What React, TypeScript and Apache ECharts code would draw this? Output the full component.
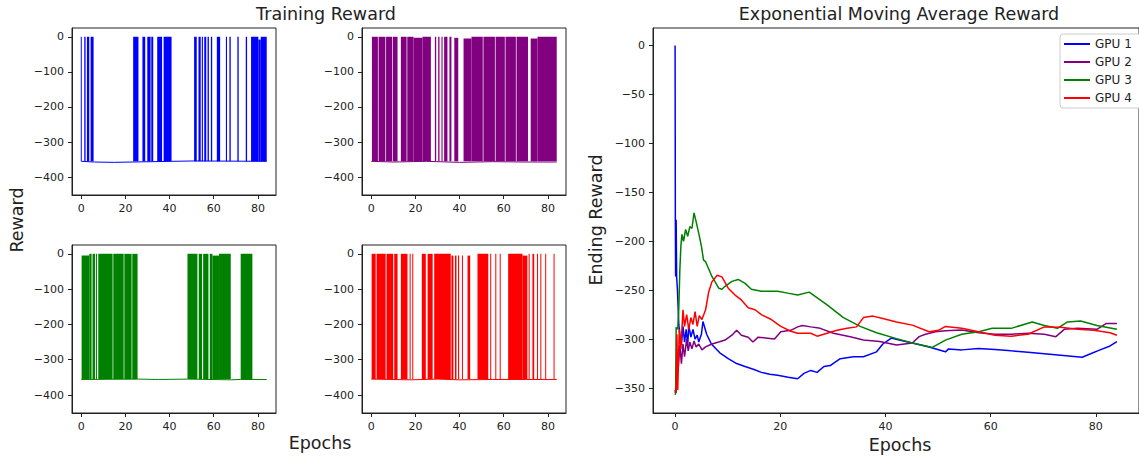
import React, { useEffect, useRef } from "react";
import * as echarts from "echarts";

// ---------- data ----------
const gpuNames = ["GPU 1", "GPU 2", "GPU 3", "GPU 4"];
const gpuColors = ["#0000ff", "#800080", "#008000", "#ff0000"];
const epochTicks = [0, 20, 40, 60, 80];
const rewardTicks = [0, -100, -200, -300, -400];
const emaTicks = [0, -50, -100, -150, -200, -250, -300, -350];
const emaXTicks = [0, 20, 40, 60, 80];

// Training reward: baseline (failed episodes, ~-355) and high-reward bands [startEpoch, endEpoch, topReward]
const gpu1Base = [[0, -355], [6, -357], [15, -358], [23, -357], [41, -355], [51, -354], [84, -355]];
const gpu1Bands = [
  [0, 0.45, 0], [1.35, 1.96, 0], [2.56, 3.62, 0], [4.22, 5.58, 0],
  [23.5, 25.9, 0], [27.7, 28.96, 0], [29.9, 31.4, 0], [31.7, 32.6, 0], [34.4, 36.6, 0], [37.3, 40.9, 0],
  [51.1, 52.3, 0], [53.1, 54.1, 0], [54.6, 55.1, 0], [55.7, 56.6, 0], [57.2, 57.8, 0], [58.7, 59.3, 0],
  [61.4, 62.9, 0], [65.5, 66.0, 0], [67.1, 67.7, 0], [70.7, 71.3, 0], [74.5, 75.1, 0],
  [76.9, 80.2, 0], [80.2, 81.3, -8], [81.3, 84, 0],
];
const gpu2Base = [[0, -355], [10, -357], [25, -355], [40, -358], [55, -356], [70, -357], [84, -357]];
const gpu2Bands = [
  [0.3, 3.0, 0], [3.3, 6.4, 0], [6.7, 9.5, 0], [9.8, 11.9, 0], [13.4, 16.0, 0], [16.3, 19.1, 0],
  [19.1, 23.2, -3], [23.2, 27.0, 0],
  [28.8, 29.4, 0], [30.3, 30.9, 0], [31.8, 32.3, 0], [33.0, 34.5, 0], [35.4, 36.3, 0], [37.6, 39.4, -3],
  [41.8, 45.4, -5], [45.4, 50.5, 0], [50.8, 56.0, 0], [56.3, 60.5, 0], [60.8, 65.5, 0], [65.8, 71.0, 0],
  [72.2, 75.3, -5], [75.3, 84, 0],
];
const gpu3Base = [[0, -356], [26, -355], [35, -356], [48, -355], [68, -357], [72, -356], [84, -356]];
const gpu3Bands = [
  [0.15, 3.62, -5], [3.62, 4.67, 0], [5.1, 6.2, 0], [6.6, 7.1, 0], [7.7, 14.2, 0], [14.5, 19.2, 0],
  [19.5, 22.8, 0], [23.1, 25.5, 0],
  [48.1, 52.6, 0], [53.2, 54.7, 0], [55.2, 57.6, 0], [58.2, 59.4, 0], [59.4, 62.4, -5], [62.4, 67.7, 0],
  [72.2, 77.5, 0],
];
const gpu4Base = [[0, -355], [18, -357], [30, -355], [40, -357], [55, -356], [70, -356], [84, -356]];
const gpu4Bands = [
  [0.15, 2.0, 0], [2.4, 6.5, 0], [6.9, 9.95, 0], [10.4, 11.9, 0],
  [13.4, 16.4, 0], [17.6, 17.6, 0], [18.8, 18.8, 0],
  [22.9, 24.7, 0], [25.5, 27.8, 0], [28.5, 36.0, 0], [36.3, 37.2, -5], [37.9, 38.6, -5], [39.3, 39.8, -5],
  [41.3, 41.3, -5], [43.6, 44.8, -5],
  [48.1, 53.0, 0], [54.1, 54.1, 0], [56.4, 56.4, 0], [58.4, 58.4, 0],
  [62.0, 68.5, 0], [68.5, 70.7, -5], [71.5, 71.5, 0], [73.0, 73.8, 0], [75.3, 75.3, 0], [76.8, 76.8, 0],
  [79.0, 79.0, 0], [82.8, 82.8, 0],
];

// Exponential moving average reward [epoch, reward]
const gpu1Ema = [
  [0, 0], [0.05, -177], [0.1, -236], [0.2, -178], [0.3, -237], [0.45, -250], [0.7, -285], [1.0, -300],
  [1.2, -306], [1.5, -287], [1.8, -303], [2.1, -290], [2.4, -306], [2.6, -286], [3.0, -298], [3.4, -290],
  [3.8, -300], [4.2, -296], [4.5, -303], [5.0, -295], [5.3, -282], [6.0, -295], [6.9, -305], [8.5, -314],
  [10.1, -320], [11.7, -325], [13.3, -328], [15, -331], [16.4, -334], [18, -336], [19.5, -337], [21.5, -339],
  [23.3, -340.5], [24.5, -335], [25.8, -332], [27, -334], [28.3, -328], [29.5, -327], [30.3, -324],
  [31.4, -320], [33.9, -318], [35.8, -318], [38.3, -313], [39.5, -305], [41.1, -299], [43, -301.5],
  [45.1, -304], [48.3, -308], [51.4, -313], [52, -310], [54.5, -311], [57.7, -309.5], [60.8, -310.5],
  [63.9, -312], [67.1, -313.5], [70.2, -315], [73.3, -316.5], [77.4, -318.5], [79, -315], [80.8, -311],
  [82.7, -307], [84, -302.5],
];
const gpu2Ema = [
  [0, -352], [0.2, -355], [0.4, -318], [0.6, -330], [0.9, -306], [1.2, -325], [1.5, -305], [1.8, -318],
  [2.2, -300], [2.5, -312], [2.8, -303], [3.2, -310], [3.6, -302], [4.0, -308], [4.5, -305], [5.1, -311],
  [5.8, -308], [7.0, -305], [8.3, -303], [9.5, -301], [10.8, -296], [11.7, -291], [12.6, -296], [13.9, -298],
  [14.8, -303], [15.8, -298], [17.6, -299], [18.9, -300], [20.1, -292.5], [22, -291], [23.3, -287.5],
  [24.2, -286], [25.8, -287.5], [27.6, -289], [30.1, -294], [33.3, -297.5], [35.8, -301], [38.9, -302.5],
  [42.1, -306], [45.1, -304], [46.4, -297.5], [47.6, -295], [49.5, -292.5], [51.4, -291.5], [54.5, -290.8],
  [57.7, -293.5], [60.8, -295], [63.9, -295], [67.1, -294], [70.2, -295], [72.4, -297.5], [74, -290],
  [76.5, -289], [80.2, -290], [82, -284], [84, -284],
];
const gpu3Ema = [
  [0, -357], [0.1, -355], [0.2, -288], [0.5, -290], [0.7, -270], [0.9, -230], [1.1, -205], [1.3, -193],
  [1.6, -200], [2.0, -188], [2.4, -195], [2.8, -185], [3.2, -187], [3.6, -171], [4.0, -180], [4.5, -192],
  [5.0, -205], [5.4, -219], [5.8, -221], [7.0, -236], [8.3, -248], [8.9, -249], [9.5, -246], [10.8, -241],
  [12.0, -239], [13.3, -243], [14.5, -249], [16.4, -251], [19.5, -251], [21.4, -253], [23.3, -255],
  [25.5, -252], [28.9, -265], [32, -278], [35.2, -287], [38.3, -293.5], [42.1, -299.5], [45.1, -304],
  [48.9, -308.5], [51.4, -301], [54.5, -295], [57.7, -292.5], [60.3, -289], [63.9, -289], [67.9, -282.5],
  [70.2, -286], [72.7, -289], [74.6, -282.5], [77.1, -281.5], [80.2, -286], [84, -290],
];
const gpu4Ema = [
  [0, -355], [0.2, -350], [0.35, -295], [0.5, -352], [0.8, -290], [1.1, -310], [1.5, -270], [1.8, -287],
  [2.2, -275], [2.6, -290], [3.0, -278], [3.4, -285], [3.8, -272], [4.2, -287], [4.6, -276], [5.1, -280],
  [5.8, -270], [6.4, -251.5], [7.0, -241.5], [8.0, -234.7], [8.9, -236.4], [10.1, -248], [11.4, -255],
  [12.6, -260], [13.9, -268], [15.2, -270], [16.4, -275], [18.3, -280], [20.1, -287], [22, -292],
  [23.3, -294], [25.8, -294], [27, -297], [28.9, -294], [30.8, -291], [32.7, -289], [34.5, -287.5],
  [35.8, -278], [37.6, -276.5], [39.5, -279], [42.1, -282.5], [45.1, -285.7], [48.3, -292.5], [50.1, -291],
  [51.4, -287], [54.5, -289], [57.7, -292.5], [60.8, -296], [63.9, -297], [67.1, -295], [70.2, -287.5],
  [73.3, -288], [76.5, -290], [79.6, -291], [82.7, -293.5], [84, -296],
];

const baseSets = [gpu1Base, gpu2Base, gpu3Base, gpu4Base];
const bandSets = [gpu1Bands, gpu2Bands, gpu3Bands, gpu4Bands];
const emaSets = [gpu1Ema, gpu2Ema, gpu3Ema, gpu4Ema];

// ---------- chart ----------
const FONT = "DejaVu Sans";
const INK = "#222";
const fmt = (v: number) => String(v).replace("-", "\u2212");

export default function App() {
  const ref = useRef<HTMLDivElement>(null);

  useEffect(() => {
    if (!ref.current) return;
    const chart = echarts.init(ref.current, undefined, { renderer: "svg" });

    const smallGrids = [
      { left: 72, top: 28, width: 204, height: 167 },
      { left: 362, top: 28, width: 204, height: 167 },
      { left: 72, top: 245, width: 204, height: 168 },
      { left: 362, top: 245, width: 204, height: 168 },
    ];
    const grids: any[] = smallGrids.map((g) => ({
      ...g,
      show: true,
      borderColor: INK,
      borderWidth: 1,
      backgroundColor: "transparent",
    }));
    grids.push({ left: 653, top: 28, width: 492, height: 385, show: true, borderColor: INK, borderWidth: 1, backgroundColor: "transparent" });

    const axisCommon = {
      axisLine: { show: true, onZero: false, lineStyle: { color: INK, width: 1 } },
      axisTick: { show: true, length: 4, lineStyle: { color: INK, width: 1 } },
      splitLine: { show: false },
    };
    const labelStyle = { fontSize: 11, color: INK, fontFamily: FONT, margin: 8, formatter: fmt };

    const xAxes: any[] = [];
    const yAxes: any[] = [];
    for (let i = 0; i < 4; i++) {
      xAxes.push({
        type: "value", gridIndex: i, min: -4.2, max: 88.2, ...axisCommon,
        axisTick: { ...axisCommon.axisTick, customValues: epochTicks },
        axisLabel: { ...labelStyle, customValues: epochTicks },
      });
      yAxes.push({
        type: "value", gridIndex: i, min: -451, max: 25, ...axisCommon,
        axisTick: { ...axisCommon.axisTick, customValues: rewardTicks },
        axisLabel: { ...labelStyle, customValues: rewardTicks },
      });
    }
    xAxes.push({
      type: "value", gridIndex: 4, min: -4.2, max: 88.2, ...axisCommon,
      axisTick: { ...axisCommon.axisTick, customValues: emaXTicks },
      axisLabel: { ...labelStyle, customValues: emaXTicks },
    });
    yAxes.push({
      type: "value", gridIndex: 4, min: -375.5, max: 17.9, ...axisCommon,
      axisTick: { ...axisCommon.axisTick, customValues: emaTicks },
      axisLabel: { ...labelStyle, customValues: emaTicks },
    });

    const series: any[] = [];
    for (let i = 0; i < 4; i++) {
      const color = gpuColors[i];
      series.push({
        name: "train-base-" + i,
        type: "line",
        xAxisIndex: i,
        yAxisIndex: i,
        data: baseSets[i],
        showSymbol: false,
        lineStyle: { color, width: 1 },
        silent: true,
      });
      series.push({
        name: "train-bands-" + i,
        type: "custom",
        xAxisIndex: i,
        yAxisIndex: i,
        data: bandSets[i],
        silent: true,
        renderItem: (params: any, api: any) => {
          const a = api.value(0);
          const b = api.value(1);
          const top = api.value(2);
          const p1 = api.coord([a, top]);
          const p2 = api.coord([b, -355]);
          const w = Math.max(1, p2[0] - p1[0]);
          return {
            type: "rect",
            shape: { x: p1[0] - (p2[0] - p1[0] < 1 ? 0.5 : 0), y: p1[1], width: w, height: p2[1] - p1[1] },
            style: { fill: color },
          };
        },
      });
    }
    for (let i = 0; i < 4; i++) {
      series.push({
        name: gpuNames[i],
        type: "line",
        xAxisIndex: 4,
        yAxisIndex: 4,
        data: emaSets[i],
        showSymbol: false,
        color: gpuColors[i],
        lineStyle: { color: gpuColors[i], width: 1.5 },
      });
    }

    const titleFont = { fontSize: 17.5, fontFamily: FONT, fill: INK };
    chart.setOption({
      animation: false,
      backgroundColor: "#fff",
      grid: grids,
      xAxis: xAxes,
      yAxis: yAxes,
      series,
      legend: {
        data: gpuNames,
        orient: "vertical",
        left: 1060,
        top: 34,
        icon: "rect",
        itemWidth: 26,
        itemHeight: 2,
        itemGap: 4,
        padding: [3, 12, 3, 4],
        borderColor: "#ccc",
        borderWidth: 1,
        borderRadius: 3,
        backgroundColor: "#fff",
        textStyle: { fontSize: 12, lineHeight: 14, color: INK, fontFamily: FONT },
      },
      graphic: [
        { type: "text", x: 326, y: 14, style: { text: "Training Reward", ...titleFont, align: "center", verticalAlign: "middle" } },
        { type: "text", x: 899, y: 14, style: { text: "Exponential Moving Average Reward", ...titleFont, align: "center", verticalAlign: "middle" } },
        { type: "text", x: 17, y: 220, rotation: Math.PI / 2, style: { text: "Reward", ...titleFont, align: "center", verticalAlign: "middle" } },
        { type: "text", x: 320, y: 443, style: { text: "Epochs", ...titleFont, align: "center", verticalAlign: "middle" } },
        { type: "text", x: 596, y: 220, rotation: Math.PI / 2, style: { text: "Ending Reward", ...titleFont, align: "center", verticalAlign: "middle" } },
        { type: "text", x: 900, y: 445, style: { text: "Epochs", ...titleFont, align: "center", verticalAlign: "middle" } },
      ],
    });

    return () => chart.dispose();
  }, []);

  return (
    <div
      ref={ref}
      style={{ position: "fixed", left: 0, top: 0, width: 1139, height: 461 }}
    />
  );
}
